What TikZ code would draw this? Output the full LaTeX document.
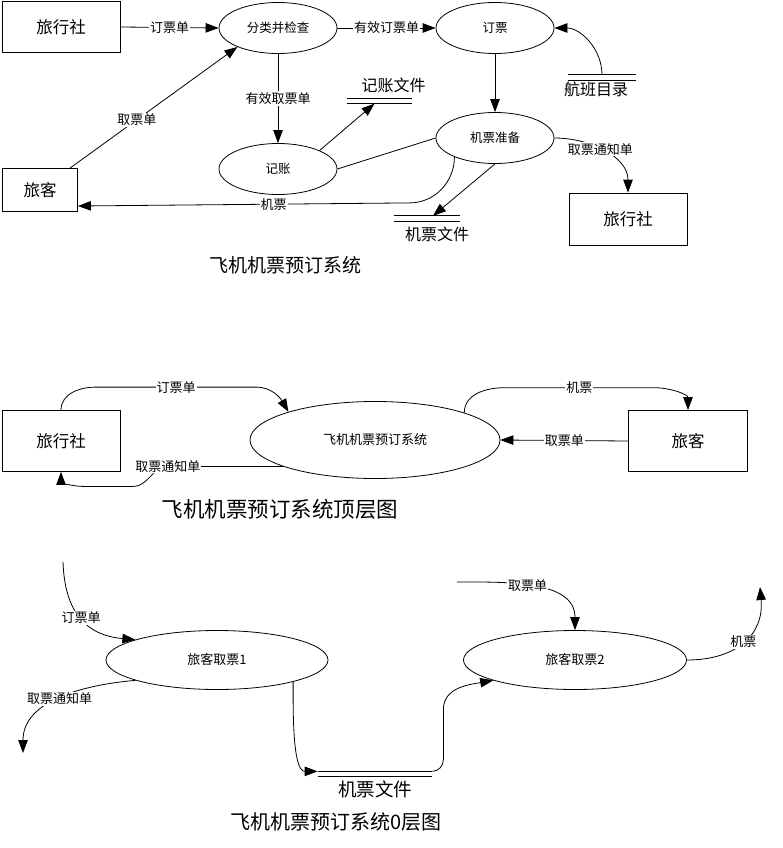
\documentclass[tikz,border=0pt]{standalone}
\usepackage{fontspec}
\setmainfont{Noto Sans CJK SC}
\usetikzlibrary{positioning, shapes.geometric, arrows.meta}

\begin{document}
\begin{tikzpicture}[
    x=1pt, y=-1pt,
    line width=0.8pt,
    >={Triangle[length=13pt, width=9.5pt]},
    ent/.style   ={draw, minimum width=118pt, minimum height=51pt, inner sep=0pt,
                   font=\fontsize{16.5}{18}\selectfont},
    proc/.style  ={draw, ellipse, minimum width=118pt, minimum height=51pt,
                   inner sep=0pt, font=\fontsize{12.5}{14}\selectfont},
    store/.style ={minimum width=#1, minimum height=4.5pt, inner sep=0pt},
    stlbl/.style ={font=\fontsize{16}{18}\selectfont, inner sep=1pt},
    lbl/.style   ={fill=white, inner sep=1pt, font=\fontsize{13}{14}\selectfont},
    flow/.style  ={->},
    ttl/.style   ={font=\fontsize{19}{22}\selectfont},
]
\useasboundingbox (0,0) rectangle (782,848);

% =============== Data flow diagram ===============
\node[ent]  (ta1)  at (61,27)   {旅行社};
\node[proc] (chk)  at (278,28)  {分类并检查};
\node[proc] (bk)   at (495,28)  {订票};
\node[proc] (acc)  at (278,169) {记账};
\node[proc] (prep) at (495,138) {机票准备};
\node[ent, minimum width=75pt, minimum height=43pt] (tour) at (40,190) {旅客};
\node[ent, minimum height=52pt] (ta2) at (628,219) {旅行社};

% stores
\node[store=65pt] (sAcc) at (379.5,101) {};
\node[stlbl, above=4pt of sAcc, xshift=14pt] (sAccT) {记账文件};
\node[store=67pt] (sFlt) at (602,77.5) {};
\node[stlbl, below=0pt of sFlt, xshift=-6pt] (sFltT) {航班目录};
\node[store=66pt] (sTkt) at (427,218.5) {};
\node[stlbl, below=4pt of sTkt, xshift=10pt] (sTktT) {机票文件};

% flows
\draw[flow] (ta1.east) -- node[lbl]{订票单} (chk.west);
\draw[flow] (chk) -- node[lbl]{有效订票单} (bk);
\draw[flow] (sFlt.north) to[out=90, in=0] (bk.east);
\draw[flow] (bk) -- (prep);
\draw[flow] (chk) -- node[lbl]{有效取票单} (acc);
\draw[flow] (acc.24) -- ([xshift=-5pt]sAcc.south);
\draw (acc.east) -- (prep.west);
\draw[flow] (prep.south) -- ([xshift=6pt]sTkt.north);
\draw[flow] (prep.205) to[out=-90, in=0] ++(-45,46)
      -- node[lbl, pos=0.41]{机票} ([yshift=-16pt]tour.east);
\draw[flow] (prep.east) to[out=0, in=90] node[lbl, pos=0.45]{取票通知单} (ta2.north);
\draw[flow] ([xshift=30pt]tour.north) -- node[lbl, pos=0.4]{取票单} (chk.205);

\node[ttl] (t1) at (285,265) {飞机机票预订系统};

% =============== Top level ===============
\node[ent, minimum height=61pt] (ta3) at (61,441) {旅行社};
\node[proc, minimum width=250pt, minimum height=77pt,
      font=\fontsize{13}{15}\selectfont] (sys) at (375,440) {飞机机票预订系统};
\node[ent, minimum width=119pt, minimum height=61pt] (tour2) at (688,441) {旅客};

\draw[flow] (ta3.north) to[out=90, in=180] ++(35,-23)
      -- node[lbl]{订票单} ++(160,0) to[out=0, in=120] (sys.162);
\draw[flow] (sys.17) to[out=90, in=180] ++(40,-25)
      -- node[lbl]{机票} ++(150,0) to[out=0, in=90] (tour2.north);
\draw[flow] (tour2.west) -- node[lbl]{取票单} (sys.east);
\draw[flow] (sys.196) -- ++(-115,0) node[lbl]{取票通知单}
      to[out=180, in=0] ++(-35,20) -- ++(-50,0) to[out=180, in=-90] (ta3.south);

\node[ttl, font=\fontsize{21.5}{24}\selectfont] (t2) at (280,509) {飞机机票预订系统顶层图};

% =============== Level 0 ===============
\node[proc, minimum width=222pt, minimum height=59pt,
      font=\fontsize{13}{15}\selectfont] (rt1) at (217,660) {旅客取票1};
\node[proc, minimum width=223pt, minimum height=59pt,
      font=\fontsize{13}{15}\selectfont] (rt2) at (575,660) {旅客取票2};
\node[store=114pt] (sTkt0) at (375,774) {};
\node[stlbl, font=\fontsize{18.5}{20}\selectfont, below=3pt of sTkt0] (sTkt0T) {机票文件};

\coordinate (inBk)  at (63,562);
\coordinate (outNt) at (23,753);
\coordinate (inTk)  at (457,582);
\coordinate (outTk) at (760,587);

\draw[flow] (inBk) to[out=-88, in=175, looseness=1.2] node[lbl, pos=0.5]{订票单} (rt1.166);
\draw[flow] (rt1.194) to[out=185, in=90] node[lbl, pos=0.5]{取票通知单} (outNt);
\draw[flow] (rt1.-16) to[out=-90, in=180, looseness=0.7] (sTkt0.north west);
\draw[flow] (sTkt0.north east) to[out=0, in=-90] ++(11,-12) -- ++(0,-50)
      to[out=90, in=190] (rt2.194);
\draw[flow] (inTk) to[out=0, in=90] node[lbl, pos=0.45]{取票单} (rt2.north);
\draw[flow] (rt2.east) to[out=0, in=-85, looseness=1.2] node[lbl, pos=0.5]{机票} (outTk);

\node[ttl, font=\fontsize{20}{22}\selectfont] (t3) at (336,822) {飞机机票预订系统0层图};

% store lines
\foreach \st in {sAcc, sFlt, sTkt, sTkt0}{%
  \draw (\st.north west) -- (\st.north east) (\st.south west) -- (\st.south east);
}

\end{tikzpicture}
\end{document}
